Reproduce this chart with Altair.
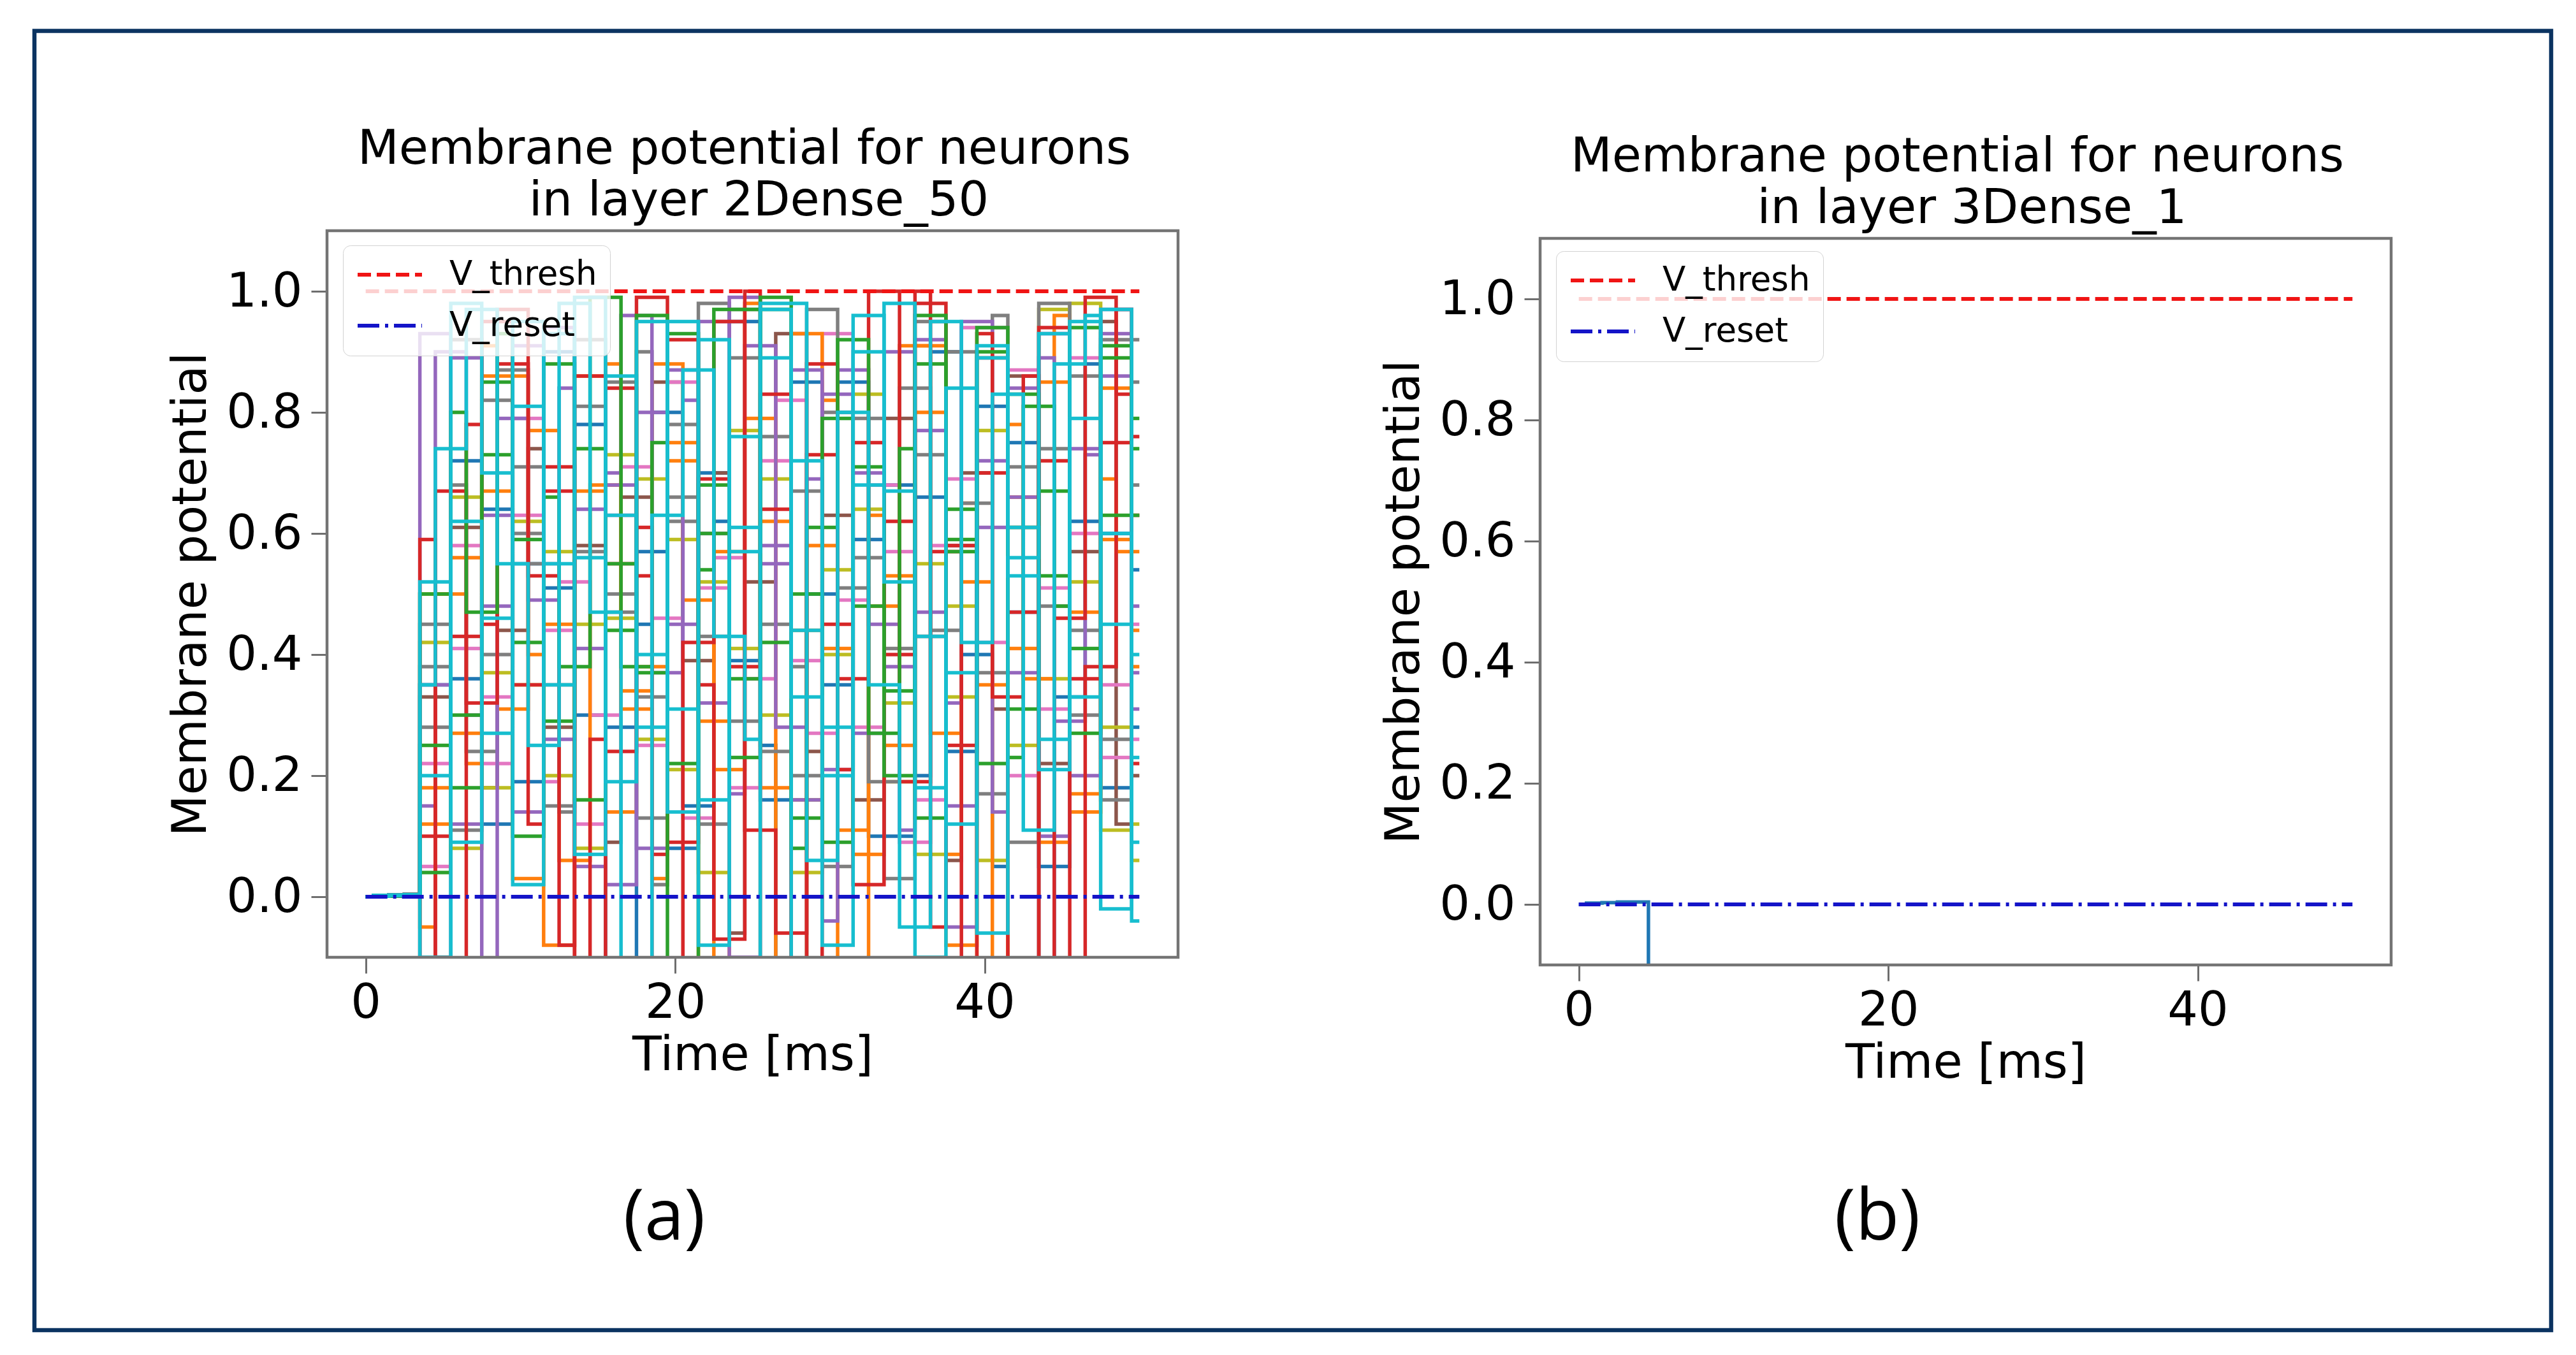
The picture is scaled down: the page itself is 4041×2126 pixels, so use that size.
import altair as alt
import pandas as pd

# ---------------- data ----------------
time_ms = list(range(51))          # simulation time steps [ms]

x_ticks = [0, 20, 40]
y_ticks = [0.0, 0.2, 0.4, 0.6, 0.8, 1.0]

ref_names = ["V_thresh", "V_reset"]
ref_levels = [1.0, 0.0]
ref_colors = ["#f01414", "#1414c8"]

title_a = ["Membrane potential for neurons", "in layer 2Dense_50"]
title_b = ["Membrane potential for neurons", "in layer 3Dense_1"]
panel_labels = ["(a)", "(b)"]

# layer 2 (Dense_50): membrane potential traces (estimated)
v_n01 = [0.0, 0.001, 0.002, 0.003, 0.35, 0.35, 0.72, 0.72, 0.12, 0.12,
         0.55, 0.55, 0.90, 0.90, 0.30, 0.30, -0.20, -0.20, 0.45, 0.80,
         0.80, 0.15, 0.15, 0.62, 0.95, 0.95, 0.25, -0.30, -0.30, 0.50,
         0.50, 0.85, 0.85, 0.10, 0.68, 0.68, 0.20, 0.90, 0.90, 0.40,
         0.40, 0.05, 0.75, 0.75, -0.15, 0.33, 0.33, 0.88, 0.60, 0.60, 0.28]
v_n02 = [0.0, 0.001, 0.002, 0.002, -0.20, -0.20, 0.36, 0.36, 0.64, 0.64,
         0.19, 0.19, 0.51, 0.51, 0.78, 0.78, 0.28, 0.28, 0.57, 0.57,
         0.08, 0.08, 0.70, 0.70, 0.39, 0.39, 0.16, 0.16, 0.85, 0.85,
         0.35, 0.35, 0.59, 0.59, 0.10, 0.10, 0.66, 0.66, 0.24, 0.24,
         0.81, 0.81, 0.47, 0.47, 0.05, 0.05, 0.62, 0.62, 0.18, 0.18, 0.54]
v_n03 = [0.0, 0.001, 0.002, 0.003, 0.33, 0.33, 0.61, 0.61, 0.18, 0.44,
         0.44, 0.74, 0.28, 0.28, 0.58, 0.58, 0.09, 0.66, 0.66, 0.85,
         0.85, 0.39, 0.39, 0.70, -0.06, 0.52, 0.52, 0.93, 0.93, 0.24,
         0.63, 0.63, 0.16, 0.16, 0.79, 0.79, 0.43, 0.43, 0.06, 0.70,
         0.70, 0.31, 0.86, 0.86, 0.22, 0.22, 0.57, 0.57, 0.95, 0.12, 0.20]
v_n04 = [0.0, 0.001, 0.002, 0.002, 0.05, 0.05, 0.41, 0.41, 0.22, 0.22,
         0.63, 0.63, 0.19, 0.52, 0.52, 0.30, 0.30, 0.71, 0.71, 0.46,
         0.46, 0.13, 0.13, 0.56, 0.56, 0.36, 0.36, 0.82, 0.82, 0.27,
         0.27, 0.49, 0.49, 0.68, 0.68, 0.09, 0.09, 0.58, 0.58, 0.94,
         0.94, 0.94, 0.20, 0.20, 0.51, 0.51, 0.89, 0.89, 0.35, 0.35, 0.26]
v_n05 = [0.0, 0.001, 0.001, 0.002, 0.50, 0.50, 0.08, 0.08, 0.37, 0.37,
         0.62, 0.62, 0.20, 0.20, 0.45, 0.45, 0.73, 0.73, 0.26, 0.26,
         0.59, 0.59, 0.04, 0.04, 0.41, 0.41, 0.69, 0.69, 0.16, 0.16,
         0.54, 0.54, 0.83, 0.83, 0.32, 0.32, 0.07, 0.07, 0.48, 0.48,
         0.77, 0.77, 0.25, 0.25, 0.97, 0.97, 0.52, 0.52, 0.11, 0.11, 0.06]
v_n06 = [0.0, 0.002, 0.003, 0.004, -0.05, 0.50, 0.50, 0.22, 0.86, 0.86,
         0.86, 0.40, -0.08, -0.08, 0.67, 0.67, 0.88, 0.31, 0.31, 0.03,
         0.72, 0.72, -0.25, 0.57, 0.57, 0.98, 0.18, 0.18, 0.44, 0.44,
         0.82, -0.12, -0.12, 0.63, 0.25, 0.25, 0.91, 0.91, 0.07, 0.52,
         0.52, -0.30, 0.78, 0.36, 0.36, 0.96, 0.14, 0.14, 0.69, 0.57, 0.38]
v_n07 = [0.0, 0.001, 0.002, 0.003, 0.18, 0.18, 0.56, 0.56, 0.91, 0.31,
         0.31, 0.77, 0.77, 0.06, 0.06, 0.68, 0.68, 0.34, 0.34, 0.88,
         0.88, 0.49, 0.49, 0.21, 0.21, 0.79, 0.79, -0.20, -0.20, 0.58,
         0.58, 0.11, 0.11, 0.48, 0.48, 0.91, 0.91, 0.27, 0.27, 0.65,
         -0.30, -0.30, 0.41, 0.41, 0.85, 0.85, 0.17, 0.17, 0.59, 0.59, 0.44]
v_n08 = [0.0, 0.002, 0.003, 0.003, 0.45, 0.45, 0.68, 0.24, 0.24, 0.87,
         0.87, 0.55, 0.55, 0.14, 0.81, 0.81, 0.47, 0.47, 0.90, 0.02,
         0.62, 0.62, 0.98, 0.98, 0.29, 0.29, 0.76, 0.76, 0.38, 0.97,
         0.97, 0.51, 0.51, 0.19, 0.19, 0.84, 0.84, 0.44, 0.44, 0.65,
         0.65, 0.96, 0.09, 0.09, 0.74, 0.74, 0.30, 0.30, 0.92, 0.92, 0.68]
v_n09 = [0.0, 0.001, 0.001, 0.002, 0.28, 0.28, 0.92, 0.92, 0.40, 0.40,
         0.71, 0.71, 0.15, 0.15, 0.57, 0.57, 0.85, 0.85, 0.33, 0.33,
         0.66, 0.66, 0.12, 0.12, 0.97, 0.97, 0.45, 0.45, 0.20, 0.20,
         0.80, 0.80, 0.56, 0.56, 0.03, 0.03, 0.73, 0.73, 0.90, 0.90,
         0.37, 0.37, 0.61, 0.61, 0.98, 0.98, 0.44, 0.44, 0.16, 0.16, 0.85]
v_n10 = [0.0, 0.001, 0.001, 0.002, 0.15, 0.90, 0.90, 0.30, -0.15, 0.79,
         0.79, 0.49, 0.49, 0.84, 0.05, 0.05, 0.70, 0.96, 0.96, 0.37,
         0.37, 0.82, 0.60, 0.60, 0.17, 0.91, 0.91, 0.28, 0.28, 0.69,
         -0.04, 0.87, 0.87, 0.45, 0.45, 0.11, 0.77, 0.77, 0.32, 0.95,
         0.95, 0.14, 0.66, 0.66, 0.89, 0.29, 0.29, 0.73, 0.97, 0.97, 0.48]
v_n11 = [0.0, 0.001, 0.002, 0.002, 0.93, 0.93, 0.12, 0.12, 0.48, 0.48,
         0.91, 0.91, 0.26, 0.26, 0.64, 0.64, 0.02, 0.02, 0.80, 0.80,
         0.45, 0.45, 0.95, 0.95, -0.10, -0.10, 0.58, 0.58, 0.87, 0.87,
         0.21, 0.21, 0.70, 0.70, 0.38, 0.38, 0.92, 0.92, 0.15, 0.15,
         0.61, 0.61, 0.84, 0.84, 0.10, 0.10, 0.74, 0.74, 0.93, 0.93, 0.37]
v_n12 = [0.0, 0.002, 0.003, 0.004, 0.59, -0.10, -0.30, 0.78, 0.45, 0.88,
         0.88, 0.12, 0.67, 0.67, -0.25, 0.26, 0.84, 0.84, 0.53, 0.07,
         0.92, 0.92, 0.35, -0.07, -0.07, 1.00, 0.64, 0.64, -0.18, 0.88,
         0.88, 0.21, 0.75, 0.75, 0.40, 0.40, 1.00, -0.05, 0.58, 0.58,
         0.93, 0.33, 0.33, 0.86, -0.20, 0.46, 0.46, 0.99, 0.99, 0.83, 0.76]
v_n13 = [0.0, 0.001, 0.003, 0.004, -0.15, 0.67, 0.67, 0.32, 0.32, 0.97,
         0.97, 0.53, 0.53, -0.08, 0.86, 0.86, 0.24, 0.24, 0.61, -0.25,
         -0.25, 0.42, 0.42, 0.95, 0.95, 0.11, 0.11, -0.06, -0.06, 0.73,
         0.73, 0.36, 0.36, 1.00, 1.00, 0.19, 0.19, 0.57, 0.57, -0.12,
         0.89, 0.89, 0.47, 0.47, 0.72, 0.72, -0.22, 0.38, 0.38, 0.97, 0.63]
v_n14 = [0.0, 0.001, 0.002, 0.002, 0.25, 0.25, 0.80, 0.47, 0.47, 0.93,
         0.10, 0.10, 0.66, 0.38, 0.38, 0.99, 0.99, 0.38, 0.38, 0.75,
         -0.20, -0.20, 0.54, 0.97, 0.97, 0.97, 0.42, 0.42, 0.08, 0.61,
         0.61, 0.92, 0.92, 0.27, 0.27, 0.74, 0.13, 0.13, 0.59, 0.59,
         0.90, 0.90, 0.23, 0.81, 0.81, 0.48, 0.94, 0.94, 0.63, 0.63, 0.79]
v_n15 = [0.0, 0.002, 0.002, 0.003, 0.04, 0.04, 0.30, 0.30, 0.73, 0.73,
         0.42, 0.42, 0.88, 0.88, 0.16, 0.16, 0.55, 0.55, 0.37, 0.37,
         0.93, 0.93, 0.60, 0.60, 0.23, 0.23, 0.99, 0.99, 0.50, 0.50,
         0.09, 0.09, 0.71, 0.71, 0.34, 0.34, 0.96, 0.96, 0.64, 0.64,
         0.22, 0.22, 0.83, 0.83, 0.53, 0.53, 0.27, 0.27, 0.91, 0.91, 0.63]
v_n16 = [0.0, 0.001, 0.002, 0.003, 0.35, 0.74, 0.74, 0.97, 0.97, 0.55,
         0.55, 0.25, 0.25, 0.98, 0.98, 0.47, 0.47, -0.30, -0.30, 0.63,
         0.63, 0.87, 0.87, 0.43, 0.43, 0.26, 0.98, 0.98, 0.98, 0.06,
         0.06, 0.80, 0.80, 0.35, 0.35, -0.05, -0.05, 0.95, 0.95, 0.42,
         0.42, 0.83, 0.83, 0.11, 0.11, 0.88, 0.88, 0.96, -0.02, -0.02, 0.23]
v_n17 = [0.0, 0.002, 0.003, 0.003, 0.20, 0.20, 0.98, 0.98, 0.70, 0.70,
         0.02, 0.02, 0.93, 0.93, 0.56, 0.56, 0.19, 0.19, 0.95, 0.95,
         0.31, 0.31, -0.08, -0.08, 0.76, 0.76, 0.97, 0.97, 0.44, 0.44,
         0.20, 0.20, 0.90, 0.90, 0.67, 0.67, -0.10, -0.10, 0.37, 0.37,
         0.89, 0.89, 0.53, 0.53, 0.21, 0.21, 0.95, 0.95, 0.60, 0.60, -0.04]
v_n18 = [0.0, 0.001, 0.002, 0.003, 0.10, 0.10, 0.43, 0.43, 0.95, 0.95,
         0.35, 0.35, 0.71, 0.71, -0.20, -0.20, 0.55, 0.55, 0.99, 0.99,
         0.09, 0.09, 0.69, 0.69, 0.38, 0.38, 0.83, 0.83, -0.25, -0.25,
         0.45, 0.45, 0.02, 0.02, 0.62, 0.62, 0.98, 0.98, 0.25, 0.25,
         0.70, 0.70, -0.13, -0.13, 0.94, 0.94, 0.36, 0.36, 0.75, 0.75, 0.22]
v_n19 = [0.0, 0.001, 0.002, 0.003, 0.12, 0.12, 0.27, 0.27, 0.67, 0.67,
         0.03, 0.03, 0.45, 0.45, 0.86, 0.86, 0.14, 0.14, 0.38, 0.38,
         0.75, 0.75, 0.29, 0.29, -0.15, -0.15, 0.62, 0.62, 0.93, 0.93,
         0.41, 0.41, 0.07, 0.07, 0.53, 0.53, 0.80, 0.80, -0.08, -0.08,
         0.35, 0.35, 0.66, 0.66, 0.09, 0.09, 0.47, 0.47, 0.84, 0.84, 0.57]
v_n20 = [0.0, 0.001, 0.001, 0.002, 0.22, 0.22, 0.58, 0.58, 0.33, 0.33,
         0.79, 0.79, 0.44, 0.44, 0.12, 0.12, 0.63, 0.63, 0.25, 0.25,
         0.85, 0.85, 0.51, 0.51, 0.18, 0.18, 0.72, 0.72, 0.39, 0.39,
         0.93, 0.93, 0.28, 0.28, 0.57, 0.57, 0.16, 0.16, 0.69, 0.69,
         0.42, 0.42, 0.87, 0.87, 0.31, 0.31, 0.60, 0.60, 0.23, 0.23, 0.45]
v_n21 = [0.0, 0.002, 0.002, 0.003, 0.38, 0.38, 0.11, 0.11, 0.82, 0.82,
         0.60, 0.60, 0.35, 0.35, 0.92, 0.92, 0.50, 0.50, 0.13, 0.13,
         0.78, 0.78, 0.43, 0.43, 0.89, 0.89, 0.24, 0.24, 0.67, 0.67,
         0.05, 0.05, 0.79, 0.79, 0.41, 0.41, 0.95, 0.95, 0.58, 0.58,
         0.17, 0.17, 0.71, 0.71, 0.48, 0.48, 0.86, 0.86, 0.26, 0.26, 0.92]
v_n22 = [0.0, 0.001, 0.002, 0.002, 0.42, 0.42, 0.66, 0.66, 0.18, 0.18,
         0.35, 0.35, 0.57, 0.57, 0.08, 0.08, 0.46, 0.46, 0.69, 0.69,
         0.21, 0.21, 0.52, 0.52, 0.77, 0.77, 0.30, 0.30, 0.04, 0.04,
         0.40, 0.40, 0.64, 0.64, 0.19, 0.19, 0.55, 0.55, 0.33, 0.33,
         0.06, 0.06, 0.61, 0.61, 0.36, 0.36, 0.98, 0.98, 0.28, 0.28, 0.12]
v_n23 = [0.0, 0.001, 0.002, 0.003, 0.35, 0.35, 0.89, 0.89, 0.63, 0.63,
         0.14, 0.14, 0.94, 0.94, 0.41, 0.41, 0.68, 0.68, 0.08, 0.08,
         0.87, 0.87, 0.32, 0.32, 0.99, 0.99, 0.55, 0.55, 0.16, 0.16,
         0.83, 0.83, 0.27, 0.27, 0.90, 0.90, 0.47, 0.47, -0.05, -0.05,
         0.72, 0.72, 0.37, 0.37, 0.93, 0.93, 0.20, 0.20, 0.86, 0.86, 0.31]
v_n24 = [0.0, 0.001, 0.001, 0.002, 0.50, 0.50, 0.18, 0.18, 0.85, 0.85,
         0.59, 0.59, 0.29, 0.29, 0.74, 0.74, 0.44, 0.44, 0.96, 0.96,
         0.22, 0.22, 0.68, 0.68, 0.36, 0.36, 0.97, 0.97, 0.13, 0.13,
         0.79, 0.79, 0.48, 0.48, 0.20, 0.20, 0.88, 0.88, 0.57, 0.57,
         0.94, 0.94, 0.31, 0.31, 0.67, 0.67, 0.41, 0.41, 0.89, 0.89, 0.74]
v_n25 = [0.0, 0.002, 0.003, 0.004, 0.52, 0.52, 0.09, 0.09, 0.46, 0.46,
         0.95, 0.95, 0.55, 0.55, 0.07, 0.07, 0.86, 0.86, 0.40, 0.40,
         0.14, 0.14, 0.92, 0.92, 0.61, 0.61, -0.12, -0.12, 0.72, 0.72,
         0.28, 0.28, 0.96, 0.96, 0.52, 0.52, 0.18, 0.18, 0.84, 0.84,
         -0.06, -0.06, 0.56, 0.56, 0.93, 0.93, 0.33, 0.33, 0.97, 0.97, 0.40]
v_n26 = [0.0, 0.001, 0.002, 0.003, -0.10, -0.10, 0.62, 0.62, 0.27, 0.27,
         0.81, 0.81, 0.35, 0.35, 0.99, 0.99, 0.63, 0.63, 0.28, 0.28,
         0.95, 0.95, 0.16, 0.16, 0.57, 0.57, 0.89, 0.89, 0.33, 0.33,
         -0.08, -0.08, 0.68, 0.68, 0.98, 0.98, 0.43, 0.43, 0.12, 0.12,
         0.91, 0.91, 0.61, 0.61, 0.26, 0.26, 0.79, 0.79, 0.45, 0.45, 0.09]

# drawing order (later = on top) and matplotlib tab10 colours
layer2_values = [v_n01, v_n02, v_n03, v_n04, v_n20, v_n05, v_n22, v_n06, v_n07,
                 v_n19, v_n08, v_n09, v_n21, v_n10, v_n11, v_n23, v_n12, v_n13,
                 v_n18, v_n14, v_n15, v_n24, v_n16, v_n17, v_n25, v_n26]
layer2_colors = ["#1f77b4", "#1f77b4", "#8c564b", "#e377c2", "#e377c2",
                 "#bcbd22", "#bcbd22", "#ff7f0e", "#ff7f0e", "#ff7f0e",
                 "#7f7f7f", "#7f7f7f", "#7f7f7f", "#9467bd", "#9467bd",
                 "#9467bd", "#d62728", "#d62728", "#d62728", "#2ca02c",
                 "#2ca02c", "#2ca02c", "#17becf", "#17becf", "#17becf",
                 "#17becf"]

# layer 3 (Dense_1): single neuron, drops out of view at ~4.5 ms
layer3_values = [0.0, 0.002, 0.003, 0.004, 0.004, -0.42, -0.47, -0.51, -0.55, -0.58,
                 -0.61, -0.63, -0.66, -0.68, -0.70, -0.72, -0.74, -0.75, -0.77, -0.78,
                 -0.80, -0.81, -0.82, -0.83, -0.84, -0.85, -0.86, -0.87, -0.88, -0.88,
                 -0.89, -0.90, -0.90, -0.91, -0.92, -0.92, -0.93, -0.93, -0.94, -0.94,
                 -0.95, -0.95, -0.95, -0.96, -0.96, -0.96, -0.97, -0.97, -0.97, -0.98, -0.98]
layer3_colors = ["#1f77b4"]

# ---------------- build tables ----------------
def neuron_table(values_list, colors):
    rows = []
    for i, (vals, col) in enumerate(zip(values_list, colors)):
        for t, v in zip(time_ms, vals):
            rows.append({"t": t, "v": v, "neuron": f"n{i:02d}", "col": col})
    return pd.DataFrame(rows)

ref_rows = []
for name, lvl in zip(ref_names, ref_levels):
    ref_rows.append({"t": time_ms[0], "v": lvl, "name": name})
    ref_rows.append({"t": time_ms[-1], "v": lvl, "name": name})
ref_df = pd.DataFrame(ref_rows)

FONT = "DejaVu Sans"
W = 1335
H_A = 1140
H_B = 1152
X_DOM = [-2.5, 52.5]
Y_DOM = [-0.1, 1.1]


def panel(values_list, colors, title_lines, label, height, y_top, legend_y, title_dy, with_border):
    y_dom = [Y_DOM[0], y_top]
    xs = alt.Scale(domain=X_DOM, nice=False, zero=False)
    ys = alt.Scale(domain=y_dom, nice=False, zero=False)
    ax_x = alt.Axis(values=x_ticks, format="d", title="Time [ms]")
    ax_y = alt.Axis(values=y_ticks, format=".1f", title="Membrane potential",
                    titleY=(height - H_A) + H_A / 2)

    leg = alt.Legend(title=None, orient="none", legendX=25, legendY=legend_y,
                     symbolType="stroke", symbolSize=10201, symbolStrokeWidth=6,
                     labelFont=FONT, labelFontSize=53, labelColor="black",
                     labelLimit=800, labelOffset=40, padding=20, rowPadding=27,
                     clipHeight=52,
                     fillColor="rgba(255,255,255,0.8)", strokeColor="#d2d2d2",
                     cornerRadius=12, zindex=2)

    neurons = alt.Chart(neuron_table(values_list, colors)).mark_line(
        interpolate="step", strokeWidth=5.5, clip=True
    ).encode(
        x=alt.X("t:Q", scale=xs, axis=ax_x),
        y=alt.Y("v:Q", scale=ys, axis=ax_y),
        stroke=alt.Stroke("col:N", scale=None),
        detail="neuron:N",
    )

    refs = alt.Chart(ref_df).mark_line(strokeWidth=6, clip=True).encode(
        x=alt.X("t:Q", scale=xs, axis=ax_x),
        y=alt.Y("v:Q", scale=ys, axis=ax_y),
        color=alt.Color("name:N", scale=alt.Scale(domain=ref_names, range=ref_colors), legend=leg),
        strokeDash=alt.StrokeDash("name:N", scale=alt.Scale(domain=ref_names,
                                  range=[[21, 9], [34, 9, 5, 9]]), legend=leg),
    )

    frame_df = pd.DataFrame({"x0": [X_DOM[0]], "x1": [X_DOM[1]],
                             "y0": [Y_DOM[0]], "y1": [Y_DOM[1]]})
    frame = alt.Chart(frame_df).mark_rect(fillOpacity=0, stroke="#747474", strokeWidth=4.5).encode(
        x=alt.X("x0:Q", scale=xs, axis=ax_x), x2="x1:Q",
        y=alt.Y("y0:Q", scale=ys, axis=ax_y), y2="y1:Q",
    )

    t1 = alt.Chart(pd.DataFrame({"line": [title_lines[0]]})).mark_text(
        font=FONT, fontSize=75, align="center", baseline="alphabetic", dx=-13, color="black"
    ).encode(text="line:N", x=alt.value(W / 2), y=alt.value(-105 + title_dy))
    t2 = alt.Chart(pd.DataFrame({"line": [title_lines[1]]})).mark_text(
        font=FONT, fontSize=75, align="center", baseline="alphabetic", dx=10, color="black"
    ).encode(text="line:N", x=alt.value(W / 2), y=alt.value(-24 + title_dy))

    lab = alt.Chart(pd.DataFrame({"label": [label]})).mark_text(
        font="Open Sans", fontSize=112, align="center", baseline="alphabetic", color="black"
    ).encode(text="label:N", x=alt.value(529), y=alt.value(1583))

    layers = [neurons, refs, frame, t1, t2, lab]
    if with_border:
        border = alt.Chart(pd.DataFrame({"k": [0]})).mark_rect(
            fillOpacity=0, stroke="#0b3361", strokeWidth=6.5
        ).encode(x=alt.value(-459), x2=alt.value(3489),
                 y=alt.value(-313.5), y2=alt.value(1725))
        layers.append(border)

    return alt.layer(*layers).properties(width=W, height=height)


pa = panel(layer2_values, layer2_colors, title_a, panel_labels[0], H_A, Y_DOM[1], 23, 0, True)
pb = panel([layer3_values], layer3_colors, title_b, panel_labels[1], H_B,
           Y_DOM[1] + (H_B - H_A) / (H_A / (Y_DOM[1] - Y_DOM[0])), 32, 12, False)

chart = alt.hconcat(pa, pb, spacing=568, bounds="flush").resolve_scale(
    x="independent", y="independent", color="independent", strokeDash="independent"
).resolve_legend(
    color="independent", strokeDash="independent"
).properties(
    padding={"left": 42, "top": 37, "right": 0, "bottom": 0},
    background="white",
).configure_view(stroke=None).configure_axis(
    labelFont=FONT, labelFontSize=75, titleFont=FONT, titleFontSize=75,
    titleFontWeight="normal", labelColor="black", titleColor="black",
    tickColor="#6e6e6e", tickWidth=3, tickSize=25, domain=False, grid=False,
).configure_axisX(labelPadding=10, titlePadding=8).configure_axisY(
    labelPadding=14, titlePadding=16
)

chart.save("out.html", embed_options={"renderer": "svg", "actions": False})
